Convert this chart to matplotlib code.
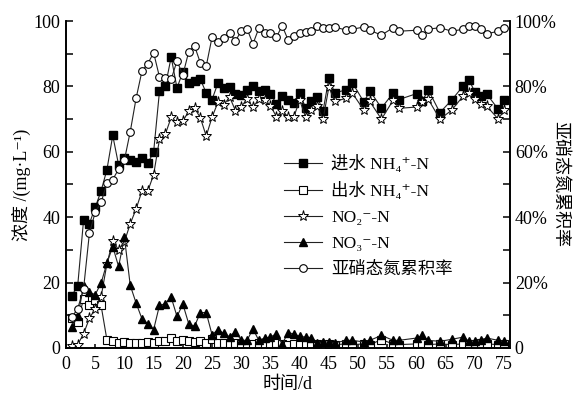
import numpy as np
import matplotlib
matplotlib.use('Agg')
import matplotlib.pyplot as plt
from matplotlib.ticker import MultipleLocator, FixedLocator

# serif for latin, DejaVu for sub/superscript signs, CJK for chinese
plt.rcParams['font.family'] = ['Liberation Serif', 'DejaVu Serif', 'Noto Sans CJK SC']

# sampling days (some days were not measured)
days = list(range(1, 47)) + [48, 49, 51, 52, 54, 56, 57, 60, 61, 62, 64, 66,
                             68, 69, 70, 71, 72, 74, 75]

# influent NH4+-N, mg/L
nh4_in = [16, 19, 39, 38, 43, 48, 54.5, 65, 56, 58,
          57.5, 57, 58, 56.5, 60, 78.5, 80, 89, 79.5, 84.5,
          81.2, 81.8, 82.2, 78, 76, 81, 79.5, 79.8, 77.8, 77.4,
          79, 80, 78.6, 79, 77.8, 74.7, 77.1, 76, 74.8, 78,
          73.5, 75.6, 76.8, 72.5, 82.5, 78,
          79, 81.2, 75.2, 78.7, 73.4, 78, 76, 77.8, 75.5, 79, 72, 75.8,
          80.2, 82, 78.2, 77.2, 77.7, 73, 76]

# effluent NH4+-N, mg/L
nh4_out = [9, 8, 15, 13, 14.5, 13, 2.5, 2, 1.5, 1.8,
           1.5, 1.5, 1.5, 1.8, 1.5, 2, 2, 3, 2, 2.5,
           2, 1.8, 2, 1.5, 2.8, 1.5, 1.5, 1.2, 1.5, 1.2,
           1, 1.2, 1.5, 1, 1.2, 1.5, 1.2, 1, 1.2, 1,
           1.2, 1, 1.2, 1, 1.2, 1,
           1.2, 1, 1.2, 1, 2.5, 1.2, 1, 1.2, 1.5, 1, 1.2, 1,
           1.2, 1, 1.2, 1.5, 1.2, 1, 1.2]

# NO2--N, mg/L
no2 = [0.5, 1, 4.3, 9, 12, 15.5, 25.7, 32.7, 30, 32.5,
       38, 42.5, 48, 48, 53, 63.8, 65.4, 70.5, 69, 69.3,
       72.5, 73.4, 70.4, 64.8, 70.6, 75.1, 74.3, 76.8, 72.6, 73.8,
       76.2, 73.6, 76.1, 75.8, 74.1, 70.8, 72.5, 70.8, 70.7, 75.8,
       70.7, 72.7, 74, 70, 79.8, 75.4,
       76.4, 78, 72.7, 75.4, 70, 75.8, 73.3, 73.7, 75.1, 76.1, 70, 72.7,
       77.1, 78.1, 76.1, 74.7, 74, 70, 72.7]

# NO3--N, mg/L
no3 = [6.4, 9.6, 18.8, 17, 16.3, 19.8, 25.9, 31, 24.9, 33.8,
       19.1, 13.7, 8.9, 7.4, 5.6, 13, 13.5, 15.5, 9.6, 13.4,
       7.4, 6.6, 10.8, 10.8, 4, 5.6, 4.4, 3.4, 5, 2.3,
       2.3, 5.8, 2.3, 3, 3.3, 4.3, 1.2, 4.6, 4.3, 3.5,
       3.3, 3.1, 1.5, 1.8, 1.8, 1.5,
       2.3, 2.3, 1.8, 2.3, 3.8, 2.3, 2.3, 3, 3.8, 2.3, 2, 2.6,
       3.3, 2, 2.2, 2.5, 3, 2.3, 2]

# nitrite accumulation rate, %
nar = [9.4, 12, 18, 35, 41.5, 44.5, 50.3, 51.5, 54.7, 57.5,
       66.2, 76.4, 84.7, 87, 90.3, 82.9, 82.5, 82.2, 87.8, 83.5,
       90.6, 92.4, 87.2, 86.2, 95.1, 93.7, 94.7, 96.4, 93.9, 97,
       97.6, 93, 97.8, 96.5, 96.4, 95, 98.6, 94.3, 95.4, 96.4,
       96.7, 96.9, 98.5, 98, 98, 98.2,
       97.2, 97.5, 98.2, 97.2, 95.7, 98, 96.9, 97.2, 95.7, 97.5, 98, 96.9,
       97.5, 98.5, 98.5, 97.5, 96.1, 96.9, 98]

fig = plt.figure(figsize=(5.74, 3.98), dpi=100)
ax = fig.add_axes([0.115, 0.126, 0.7735, 0.821])
ax2 = ax.twinx()

lc = '#222222'
lw = 0.8
ms = 5.5
h1, = ax.plot(days, nh4_in, '-s', color=lc, lw=lw, ms=ms, mfc='black', mec='black',
              label='进水 NH₄⁺-N')
h2, = ax.plot(days, nh4_out, '-s', color=lc, lw=lw, ms=ms, mfc='white', mec='black',
              mew=0.8, label='出水 NH₄⁺-N')
h3, = ax.plot(days, no2, '-*', color=lc, lw=lw, ms=8, mfc='white', mec='black',
              mew=0.7, label='NO₂⁻-N')
h4, = ax.plot(days, no3, '-^', color=lc, lw=lw, ms=ms + 0.5, mfc='black', mec='black',
              label='NO₃⁻-N')
h5, = ax2.plot(days, nar, '-o', color=lc, lw=lw, ms=ms, mfc='white', mec='black',
               mew=0.8, label='亚硝态氮累积率')

ax.set_xlim(0, 76)
ax.set_ylim(0, 100)
ax2.set_ylim(0, 100)

ax.xaxis.set_major_locator(MultipleLocator(5))
ax.yaxis.set_major_locator(MultipleLocator(20))
ax.yaxis.set_minor_locator(MultipleLocator(10))
ax2.yaxis.set_major_locator(FixedLocator([0, 20, 40, 60, 80, 100]))
ax2.yaxis.set_minor_locator(MultipleLocator(10))
ax2.set_yticklabels(['0', '20%', '40%', '60%', '80%', '100%'])

for a in (ax, ax2):
    a.spines['top'].set_visible(False)
    for s in a.spines.values():
        s.set_linewidth(1.2)
    a.tick_params(which='major', direction='in', length=5, width=1.1, labelsize=13)
    a.tick_params(which='minor', direction='in', length=5, width=1.1)
ax.tick_params(axis='x', which='major', length=3, pad=6)
ax.tick_params(axis='y', pad=4)

ax.set_xlabel('时间/d', fontsize=13, labelpad=2)
ax.set_ylabel('浓度 /(mg·L⁻¹)', fontsize=13, labelpad=2)
ax2.set_ylabel('亚硝态氮累积率', fontsize=13, rotation=270, labelpad=8)

leg = ax2.legend(handles=[h1, h2, h3, h4, h5], loc='upper left',
                 bbox_to_anchor=(0.468, 0.65), bbox_transform=fig.transFigure,
                 frameon=False, fontsize=12.5, handlelength=2.2, handletextpad=0.5,
                 labelspacing=0.55, numpoints=1)

fig.savefig('out.png', dpi=100)
